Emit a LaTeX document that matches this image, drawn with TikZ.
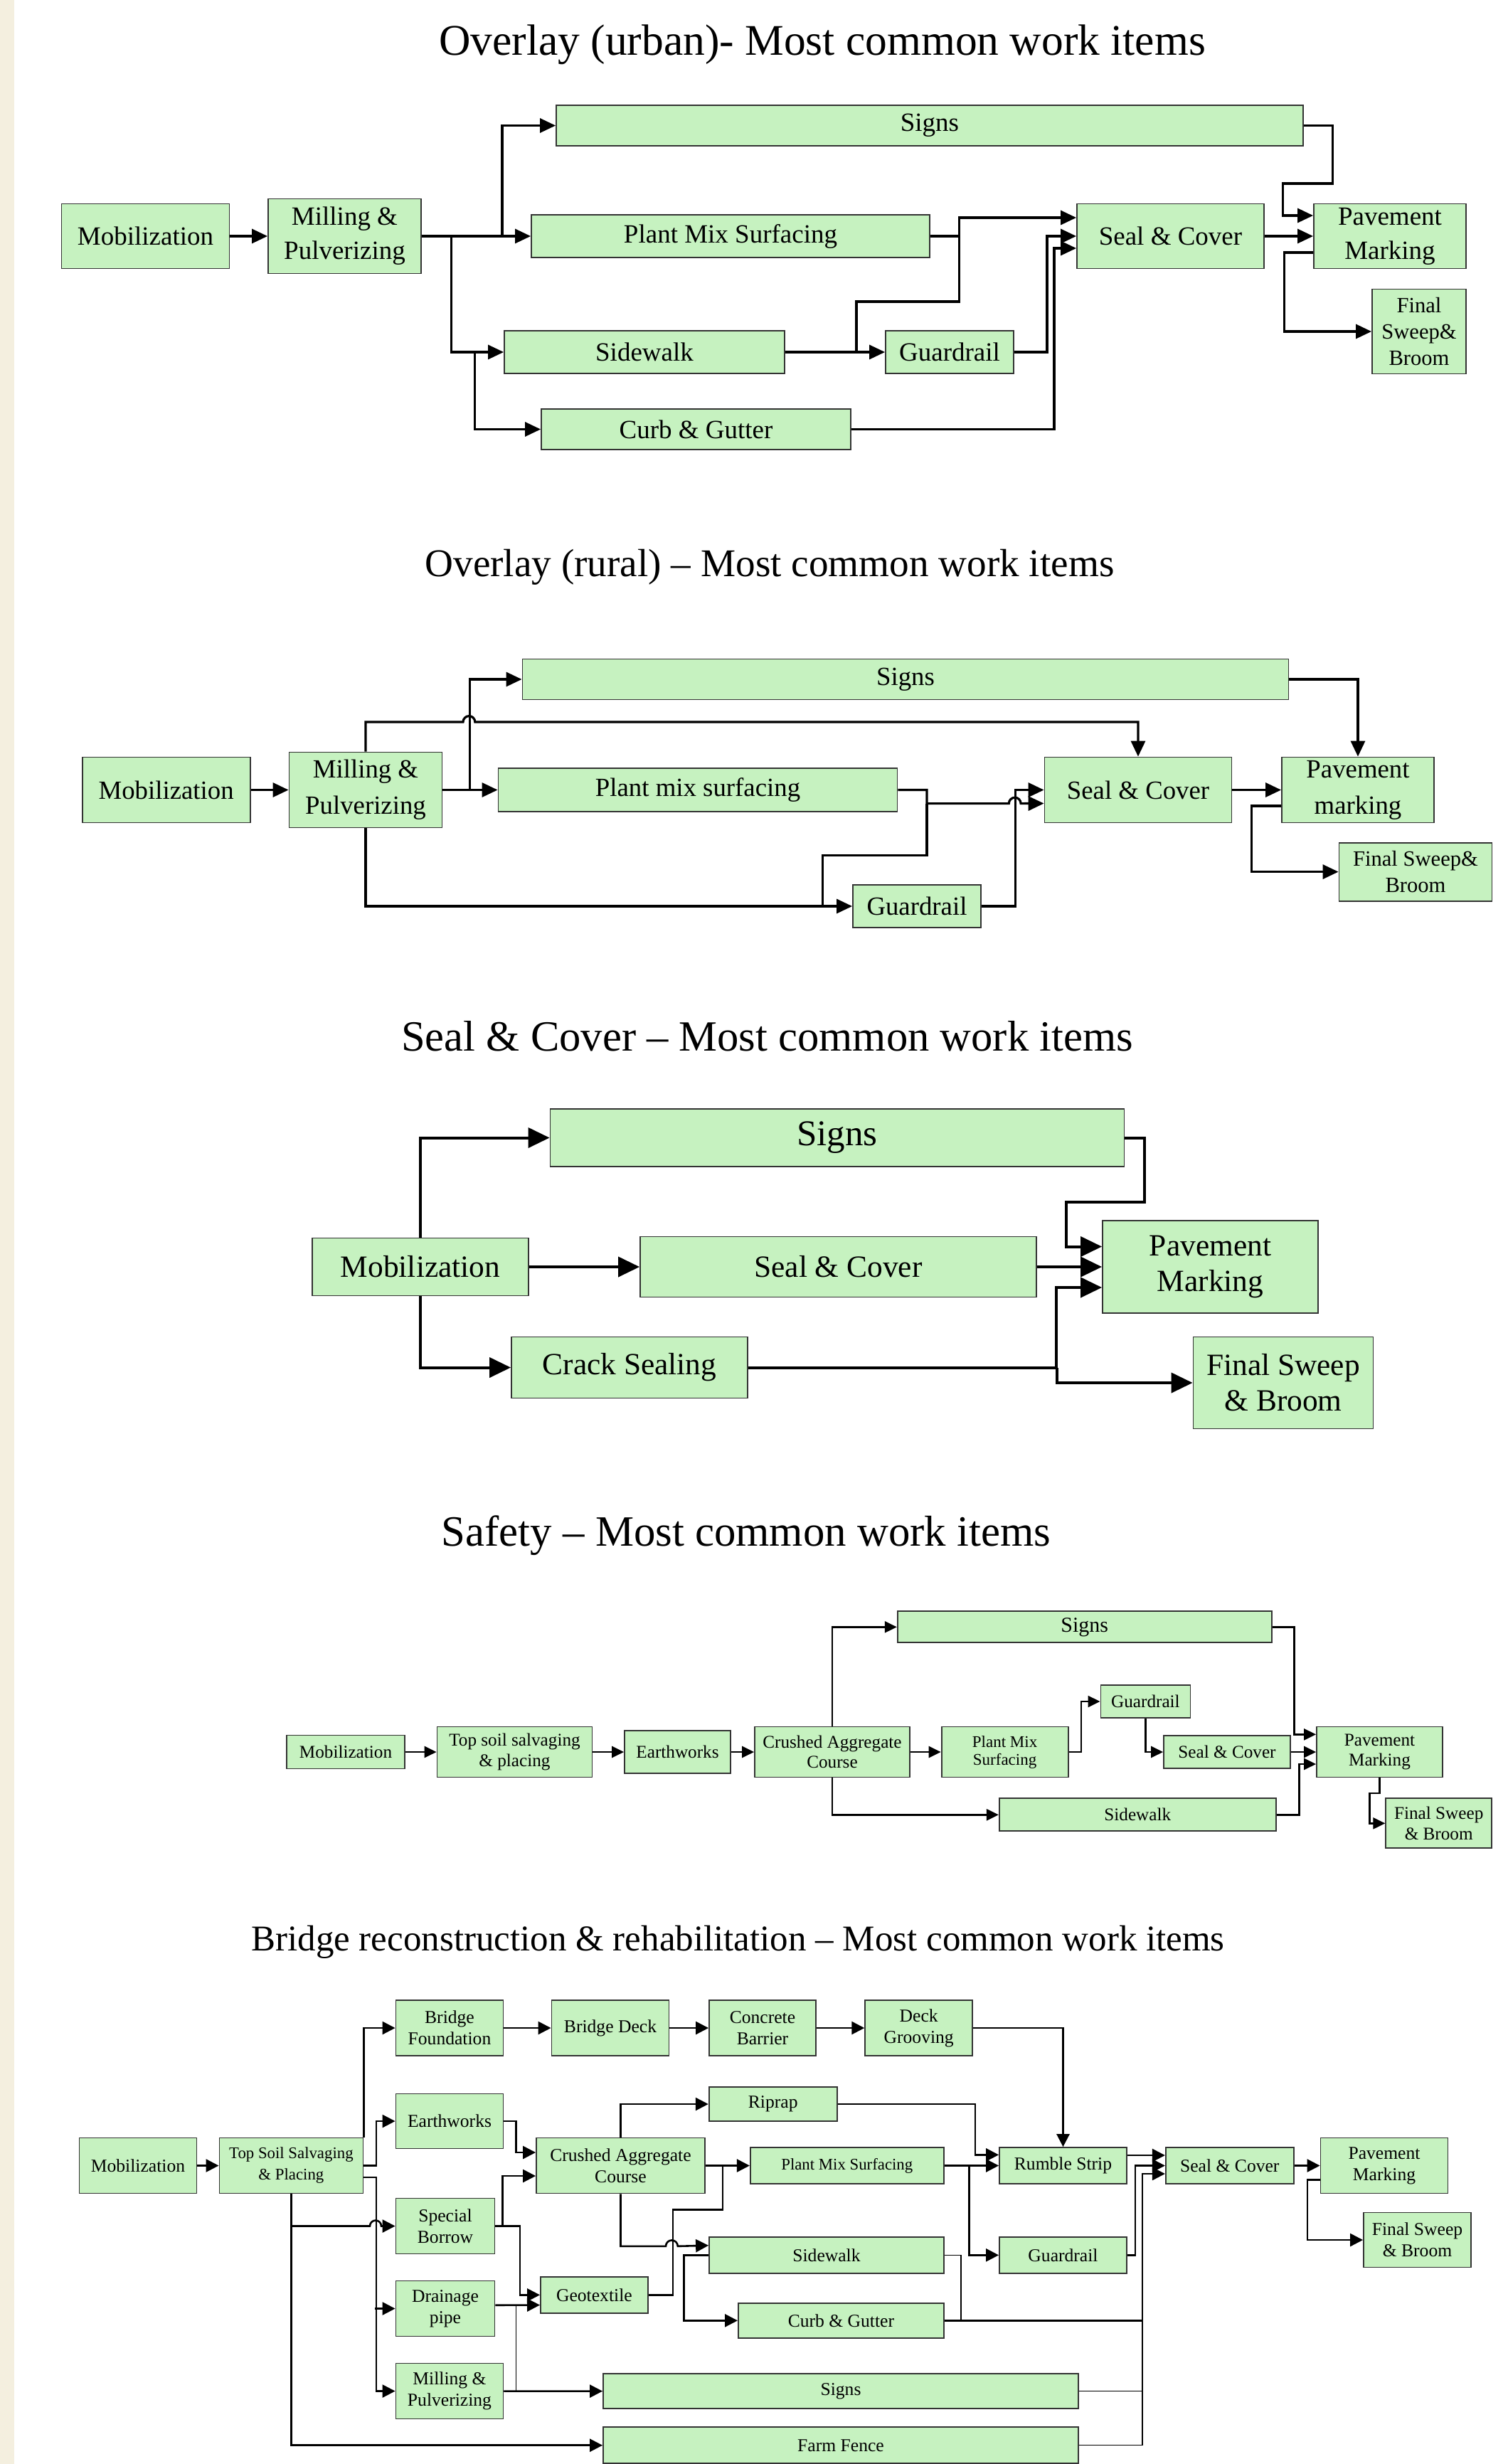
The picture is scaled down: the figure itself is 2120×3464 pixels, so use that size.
\documentclass[tikz,border=0pt]{standalone}
\usepackage{fontspec}
\setmainfont{Liberation Serif}
\usetikzlibrary{arrows.meta}
\usetikzlibrary{positioning}

\definecolor{boxgreen}{RGB}{198,242,192}
\definecolor{sidebar}{RGB}{244,239,223}

\tikzset{
  box/.style={draw=black!80, fill=boxgreen, line width=0.9pt, align=center, inner sep=1pt},
  sz/.style 2 args={minimum width=#1pt, minimum height=#2pt},
  title/.style={anchor=base, font=\fontsize{#1}{#1}\selectfont},
  ubox/.style={box, font=\fontsize{18.5}{24}\selectfont},
  usmall/.style={box, font=\fontsize{15.3}{18.4}\selectfont},
  rbox/.style={box, font=\fontsize{18.4}{25.5}\selectfont},
  rsmall/.style={box, font=\fontsize{15.3}{18.2}\selectfont},
  sbox/.style={box, font=\fontsize{21.7}{25}\selectfont},
  sbig/.style={box, font=\fontsize{25.5}{28}\selectfont},
  fbox/.style={box, font=\fontsize{12.6}{14.2}\selectfont},
  fbig/.style={box, font=\fontsize{15}{17}\selectfont},
  fsmall/.style={box, font=\fontsize{11.5}{12.5}\selectfont},
  bbox/.style={box, font=\fontsize{12.8}{15}\selectfont},
  bsmall/.style={box, font=\fontsize{11.4}{15}\selectfont},
  ulink/.style={line width=1.6pt, -{Triangle[length=11pt,width=10pt]}},
  uwire/.style={line width=1.6pt},
  slink/.style={line width=2pt, -{Triangle[length=15pt,width=14pt]}},
  flink/.style={line width=1.3pt, -{Triangle[length=8.5pt,width=8pt]}},
  blink/.style={line width=1.3pt, -{Triangle[length=9pt,width=9pt]}},
  bline/.style={line width=1.3pt},
  bwire/.style={line width=0.7pt}
}

\begin{document}
\begin{tikzpicture}[x=0.5pt,y=-0.5pt]
\useasboundingbox (0,0) rectangle (2120,3464);
\fill[white] (0,0) rectangle (2120,3464);
\fill[sidebar] (0,0) rectangle (20,3464);

% ---- overlay (urban)
\node[title=30.75] (utitle) at (1156,77.9) {Overlay (urban)- Most common work items};

\node[ubox, sz={118}{45.5}] (umob) at (204.5,332) {Mobilization};
\node[ubox, sz={107.5}{52.5}] (umill) at (484.5,332) {Milling \&\\Pulverizing};
\node[ubox, sz={525}{28.5}] (usigns) at (1307,176.5) {Signs};
\node[ubox, sz={280}{30}] (upms) at (1027,332) {Plant Mix Surfacing};
\node[ubox, sz={197}{30}] (uside) at (906,495) {Sidewalk};
\node[ubox, sz={217.5}{28.5}] (ucurb) at (978.5,603.5) {Curb \& Gutter};
\node[ubox, sz={90}{30}] (uguard) at (1335,495) {Guardrail};
\node[ubox, sz={131.5}{45.5}] (useal) at (1645.5,332) {Seal \& Cover};
\node[ubox, sz={107}{45.5}] (upave) at (1954,332) {Pavement\\Marking};
\node[usmall, sz={66}{59.5}] (ufinal) at (1995,466) {Final\\Sweep\&\\Broom};

\draw[ulink] (umob) -- (umill);
\draw[ulink] (umill) -- (upms);
\draw[ulink] ([xshift=56.5pt]umill.east) |- (usigns.west);
\draw[ulink] ([xshift=20.75pt]umill.east) |- (uside.west);
\draw[ulink] ([xshift=-20.5pt]uside.west) |- (ucurb.west);
\draw[ulink] (usigns.east) -| (1873.6,258) -| (1803.6,303) -- ([yshift=14.5pt]upave.west);
\draw[ulink] (useal) -- (upave);
\draw[ulink] ([yshift=-11.5pt]upave.west) -- ++(-41,0) |- (ufinal.west);
\draw[ulink] (upms.east) -| (1348.6,306) -- ([yshift=13pt]useal.west);
\draw[ulink] (uside) -- (uguard);
\draw[uwire] ([xshift=50pt]uside.east) |- (1348.6,424) -- ++(0,-92);
\draw[ulink] (uguard.east) -- ++(46,0) |- (useal.west);
\draw[ulink] (ucurb.east) -| (1482,349) -- ([yshift=-8.5pt]useal.west);

% ---- overlay (rural)
\node[title=27.6] (rtitle) at (1082,810.8) {Overlay (rural) -- Most common work items};

\node[rbox, sz={118}{46}] (rmob) at (233.6,1110.5) {Mobilization};
\node[rbox, sz={107.5}{53}] (rmill) at (514,1110.5) {Milling \&\\Pulverizing};
\node[rbox, sz={538.5}{28.5}] (rsigns) at (1273,955) {Signs};
\node[rbox, sz={280.5}{30.5}] (rpms) at (981,1110.5) {Plant mix surfacing};
\node[rbox, sz={131.5}{46}] (rseal) at (1600,1110.5) {Seal \& Cover};
\node[rbox, sz={107}{46}] (rpave) at (1909,1110.5) {Pavement\\marking};
\node[rsmall, sz={107.5}{41}] (rfinal) at (1990,1225.6) {Final Sweep\&\\Broom};
\node[rbox, sz={90}{30}] (rguard) at (1289,1274) {Guardrail};

\draw[ulink] (rmob) -- (rmill);
\draw[ulink] (rmill) -- (rpms);
\draw[ulink] ([xshift=19pt]rmill.east) |- (rsigns.west);
\draw[ulink] (rmill.north) -- ++(0,-41.6) -- ++(137,0) arc[start angle=180,end angle=360,radius=8.4] -| (rseal.north);
\draw[ulink] (rmill.south) |- (rguard.west);
\draw[ulink] (rpms.east) -| (1303,1129.6) -- ++(115.3,0) arc[start angle=180,end angle=360,radius=8.4] -- ([yshift=-9.5pt]rseal.west);
\draw[uwire] ([xshift=-20.9pt]rguard.west) |- (1303,1202.7) -- ++(0,-73.1);
\draw[ulink] (rguard.east) -- ++(47.7,0) |- (rseal.west);
\draw[ulink] (rsigns.east) -| (rpave.north);
\draw[ulink] (rseal) -- (rpave);
\draw[ulink] ([yshift=-11.25pt]rpave.west) -- ++(-42,0) |- (rfinal.west);

% ---- seal & cover
\node[title=30.3] (stitle) at (1078.5,1477) {Seal \& Cover -- Most common work items};

\node[sbig, sz={403.5}{40.5}] (ssigns) at (1177,1599.5) {Signs};
\node[sbox, sz={152}{40.5}] (smob) at (591,1781) {Mobilization};
\node[sbox, sz={278.5}{42.5}] (sseal) at (1178.5,1781) {Seal \& Cover};
\node[sbox, sz={151.5}{65}] (spave) at (1701.5,1781) {Pavement\\Marking};
\node[sbox, sz={166}{43}] (scrack) at (885,1922.5) {Crack Sealing};
\node[sbox, sz={126.5}{64.5}] (sfinal) at (1804,1944) {Final Sweep\\\& Broom};

\draw[slink] (smob.north) |- (ssigns.west);
\draw[slink] (smob) -- (sseal);
\draw[slink] (smob.south) |- (scrack.west);
\draw[slink] (ssigns.east) -| (1609,1689.6) -| (1499,1752.5) -- ([yshift=14.25pt]spave.west);
\draw[slink] (sseal) -- (spave);
\draw[slink] (scrack.east) -| (1484.7,1810) -- ([yshift=-14.5pt]spave.west);
\draw[slink] ([xshift=216.85pt]scrack.east) |- (sfinal.west);

% ---- safety
\node[title=30.4] (ftitle) at (1049,2173) {Safety -- Most common work items};

\node[fbox, sz={83}{23.5}] (fmob) at (486,2463) {Mobilization};
\node[fbox, sz={109}{35.5}] (ftop) at (723.5,2463) {Top soil salvaging\\\& placing};
\node[fbox, sz={74.5}{30}] (fearth) at (952.5,2463) {Earthworks};
\node[fbox, sz={109}{35.5}] (fcac) at (1170,2463) {Crushed Aggregate\\Course};
\node[fbig, sz={263}{22}] (fsigns) at (1524.7,2287.3) {Signs};
\node[fsmall, sz={89}{35.5}] (fpms) at (1412.6,2463) {Plant Mix\\Surfacing};
\node[fbox, sz={63}{23}] (fguard) at (1610.4,2392) {Guardrail};
\node[fbox, sz={89}{23}] (fseal) at (1725,2463) {Seal \& Cover};
\node[fbox, sz={88.5}{35.5}] (fpave) at (1939.5,2463) {Pavement\\Marking};
\node[fbox, sz={74.5}{35}] (ffinal) at (2022.7,2563.3) {Final Sweep\\\& Broom};
\node[fbox, sz={194.5}{23}] (fside) at (1599.3,2551.3) {Sidewalk};

\draw[flink] (fmob) -- (ftop);
\draw[flink] (ftop) -- (fearth);
\draw[flink] (fearth) -- (fcac);
\draw[flink] (fcac) -- (fpms);
\draw[flink] (fcac.north) |- (fsigns.west);
\draw[flink] (fcac.south) |- (fside.west);
\draw[flink] (fpms.east) -- ++(17.6,0) |- (fguard.west);
\draw[flink] (fguard.south) |- (fseal.west);
\draw[flink] (fsigns.east) -- ++(31,0) |- ([yshift=12.35pt]fpave.west);
\draw[flink] (fseal) -- (fpave);
\draw[flink] (fside.east) -- ++(31.7,0) |- ([yshift=-8.5pt]fpave.west);
\draw[flink] (fpave.south) -- ++(0,21.7) -- ++(-13.8,0) |- (ffinal.west);

% ---- bridge
\node[title=25.5] (btitle) at (1037.5,2742.7) {Bridge reconstruction \& rehabilitation -- Most common work items};

\node[bbox, sz={82.5}{39}] (bmob) at (194,3044.5) {Mobilization};
\node[bsmall, sz={101}{39}] (btop) at (409.4,3044.5) {Top Soil Salvaging\\\& Placing};
\node[bbox, sz={75.5}{39}] (bfound) at (632,2851) {Bridge\\Foundation};
\node[bbox, sz={82.5}{39}] (bdeck) at (858,2851) {Bridge Deck};
\node[bbox, sz={75}{39}] (bbarrier) at (1072,2851) {Concrete\\Barrier};
\node[bbox, sz={75.5}{39}] (bgroove) at (1291.7,2851) {Deck\\Grooving};
\node[bbox, sz={75.5}{38.5}] (bearth) at (632,2982) {Earthworks};
\node[bbox, sz={118.5}{39}] (bcac) at (872.5,3044.5) {Crushed Aggregate\\Course};
\node[bbox, sz={90}{24}] (bripr) at (1086.7,2958) {Riprap};
\node[bsmall, sz={136}{25.5}] (bpms) at (1190.8,3044.5) {Plant Mix Surfacing};
\node[bbox, sz={89.5}{25.5}] (brumble) at (1494.5,3044.5) {Rumble Strip};
\node[bbox, sz={90}{25.5}] (bseal) at (1728.8,3044.5) {Seal \& Cover};
\node[bbox, sz={89.5}{39}] (bpave) at (1946,3044.5) {Pavement\\Marking};
\node[bbox, sz={75.5}{38.5}] (bfinal) at (1992.5,3149) {Final Sweep\\\& Broom};
\node[bbox, sz={69.5}{39}] (bborrow) at (626,3129.5) {Special\\Borrow};
\node[bbox, sz={69.5}{39}] (bdrain) at (626,3245.5) {Drainage\\pipe};
\node[bbox, sz={75.5}{39}] (bmill) at (632,3361.5) {Milling \&\\Pulverizing};
\node[bbox, sz={75.5}{25.5}] (bgeo) at (835.4,3226.3) {Geotextile};
\node[bbox, sz={165}{25.5}] (bside) at (1162,3170.3) {Sidewalk};
\node[bbox, sz={89.5}{25.5}] (bguard) at (1494.5,3170.3) {Guardrail};
\node[bbox, sz={144.5}{24.5}] (bcurb) at (1182.4,3262.3) {Curb \& Gutter};
\node[bbox, sz={334}{24.5}] (bsigns) at (1182,3361.7) {Signs};
\node[bbox, sz={334}{25.5}] (bfence) at (1182,3437.7) {Farm Fence};

\draw[blink] (bmob) -- (btop);
\draw[blink] (btop.north east) |- (bfound.west);
\draw[blink] (btop.east) -- ++(17.5,0) |- (bearth.west);
\draw[blink] ([yshift=-8.25pt]btop.east) -- ++(17.5,0) |- (bmill.west);
\draw[blink] ([xshift=-14.25pt]bdrain.west) -- (bdrain.west);
\draw[blink] (btop.south) |- (bfence.west);
\draw[blink] (btop.south |- bborrow.west) -- ++(110.6,0) arc[start angle=180,end angle=360,radius=8] -- (bborrow.west);
\draw[blink] (bfound) -- (bdeck);
\draw[blink] (bdeck) -- (bbarrier);
\draw[blink] (bbarrier) -- (bgroove);
\draw[blink] (bgroove.east) -| (brumble.north);
\draw[blink] (bearth.east) -- ++(17,0) |- ([yshift=9.25pt]bcac.west);
\draw[blink] (bborrow.east) -- ++(10.3,0) |- ([yshift=-7.25pt]bcac.west);
\draw[blink] (bborrow.east) -- ++(34.5,0) |- (bgeo.west);
\draw[blink] ([yshift=2.4pt]bdrain.east) -- ([yshift=-7.1pt]bgeo.west);
\draw[bwire] ([xshift=14.65pt,yshift=2.4pt]bdrain.east) |- (bmill.east);
\draw[blink] (bmill) -- (bsigns);
\draw[blink] (bcac.north) |- (bripr.west);
\draw[blink] (bcac) -- (bpms);
\draw[bline] (bgeo.east) -- ++(34,0) -- ++(0,-119.6) -- ++(70,0) -- ++(0,-62.2);
\draw[blink] (bcac.south) -- ++(0,73.4) -- ++(63.5,0) arc[start angle=180,end angle=360,radius=8.4] -- ([yshift=6.8pt]bside.west);
\draw[blink] (bside.west) -- ++(-34.8,0) |- (bcurb.west);
\draw[blink] (bpms) -- (brumble);
\draw[blink] ([xshift=17.35pt]bpms.east) |- (bguard.west);
\draw[blink] (bripr.east) -- ++(193.4,0) |- ([yshift=7.6pt]brumble.west);
\draw[blink] ([yshift=7.25pt]brumble.east) -- ([yshift=7.25pt]bseal.west);
\draw[blink] (bguard.east) -- ++(11,0) |- (bseal.west);
\draw[blink] (bcurb.east) -- ++(278.3,0) |- ([yshift=-5.75pt]bseal.west);
\draw[bwire] (bside.east) -- ++(23,0) |- (bcurb.east);
\draw[bwire] (bsigns.east) -| ([xshift=139pt]bcurb.east);
\draw[bwire] (bfence.east) -| ([xshift=139pt]bcurb.east);
\draw[blink] (bseal) -- (bpave);
\draw[blink] ([yshift=-9.9pt]bpave.west) -- ++(-17.8,0) |- (bfinal.west);
\end{tikzpicture}
\end{document}
